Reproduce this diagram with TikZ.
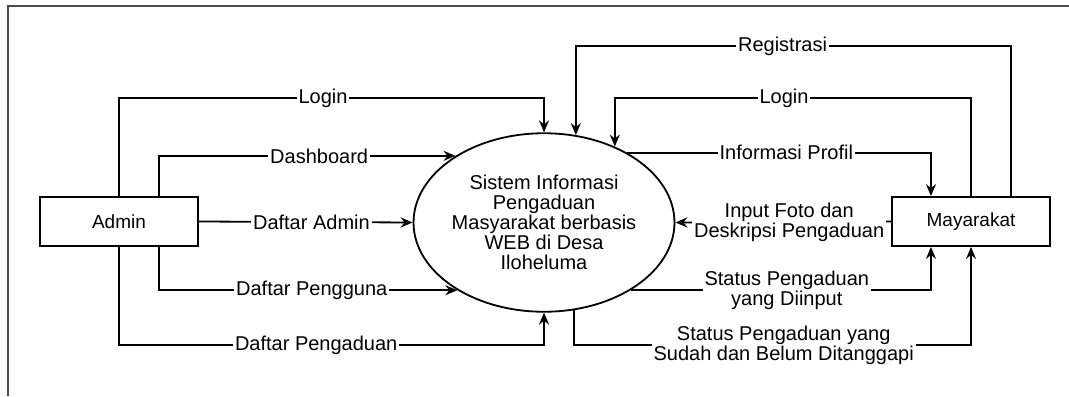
\documentclass[tikz,border=0pt]{standalone}
\usepackage{fontspec}
\setmainfont{Liberation Sans}
\usetikzlibrary{calc,arrows.meta,shapes.geometric}

\begin{document}
\begin{tikzpicture}[
    x=0.5pt, y=-0.5pt,
    line width=0.9pt,
    font=\fontsize{10}{10}\selectfont,
    entity/.style={draw, minimum width=79.2pt, minimum height=24.5pt, inner sep=0pt, font=\fontsize{9.5}{10}\selectfont},
    process/.style={draw, ellipse, minimum width=107pt, minimum height=89.25pt, inner sep=0pt, align=center},
    flow/.style={-{Stealth[length=6pt, width=5pt, inset=2pt]}},
    lbl/.style={fill=white, inner sep=1pt, align=center},
  ]

  \useasboundingbox (0,0) rectangle (1069,396);
  \draw[black!70, line width=1pt] (1069,6) -- (8,6) -- (8,396);

  % process and entities
  \node[process] (sys) at (544,222.5) {Sistem Informasi\\Pengaduan\\Masyarakat berbasis\\WEB di Desa\\Iloheluma};
  \node[entity] (admin) at (119,221.5) {Admin};
  \node[entity] (may) at (971,221.5) {Mayarakat};

  % rails and side points
  \coordinate (railA) at (0,46);
  \coordinate (railB) at (0,98);
  \coordinate (railC) at (0,345);
  \coordinate (adminN) at ($(admin.north)!0.5!(admin.north east)$);
  \coordinate (adminS) at ($(admin.south)!0.5!(admin.south east)$);
  \coordinate (mayNE) at ($(may.north)!0.5!(may.north east)$);
  \coordinate (mayNW) at ($(may.north)!0.5!(may.north west)$);
  \coordinate (maySW) at ($(may.south)!0.5!(may.south west)$);

  % admin flows
  \draw[flow] (admin.north) -- (admin.north |- railB) -- node[lbl, pos=0.48] {Login} (sys.north |- railB) -- (sys.north);
  \draw[flow] (adminN) |- node[lbl, pos=0.77] {Dashboard} (sys.143.3);
  \draw[flow] (admin.east) -- node[lbl, pos=0.526] {Daftar Admin} (sys.west);
  \draw[flow] (adminS) |- node[lbl, pos=0.756] {Daftar Pengguna} (sys.218.4);
  \draw[flow] (admin.south) -- (admin.south |- railC) -- node[lbl, pos=0.464] {Daftar Pengaduan} (sys.south |- railC) -- (sys.south);

  % masyarakat flows
  \draw[flow] (mayNE) -- (mayNE |- railA) -- node[lbl, pos=0.525] {Registrasi} (sys.70.7 |- railA) -- (sys.70.7);
  \draw[flow] (may.north) -- (may.north |- railB) -- node[lbl, pos=0.525] {Login} (sys.47.5 |- railB) -- (sys.47.5);
  \draw[flow] (sys.40.2) -| node[lbl, pos=0.262] {Informasi Profil} (mayNW);
  \draw[flow] (may.west) -- node[lbl, pos=0.472] {Input Foto dan\\Deskripsi Pengaduan} (sys.east);
  \draw[flow] (sys.-38.4) -| node[lbl, pos=0.26] {Status Pengaduan\\yang Diinput} (maySW);
  \draw[flow] (sys.-71.3) -- (sys.-71.3 |- railC) -- node[lbl, pos=0.528] {Status Pengaduan yang\\Sudah dan Belum Ditanggapi} (may.south |- railC) -- (may.south);

\end{tikzpicture}
\end{document}
